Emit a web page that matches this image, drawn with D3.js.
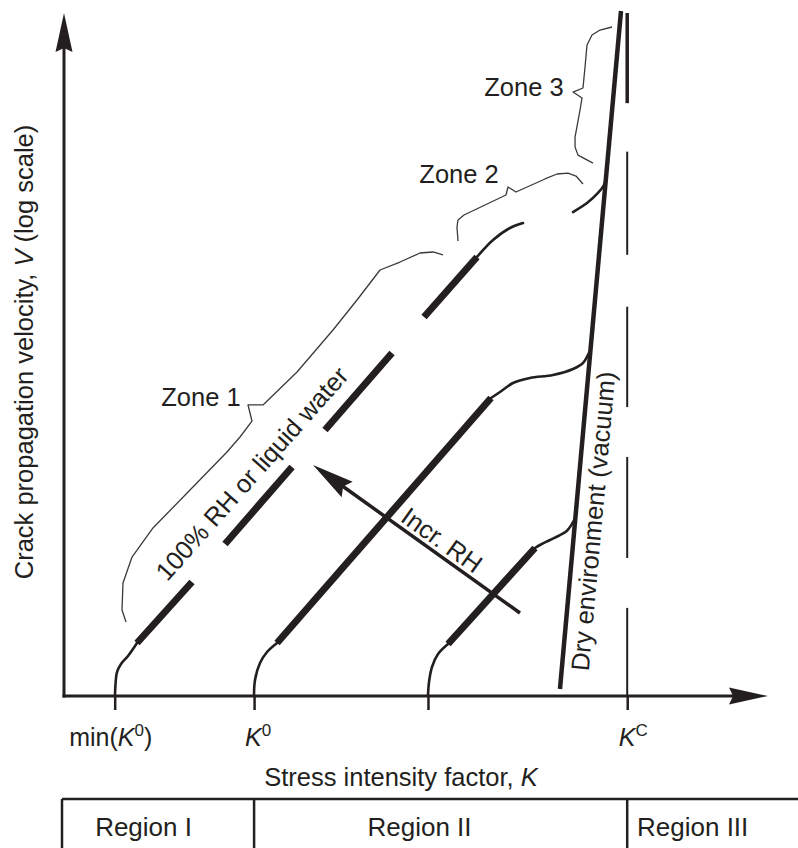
<!DOCTYPE html>
<html><head><meta charset="utf-8">
<script src="https://cdn.jsdelivr.net/npm/d3@7"></script>
<style>
html,body{margin:0;padding:0;background:#fff;}
svg{display:block;}
text{font-family:"Liberation Sans", Arial, Helvetica, sans-serif; fill:#231f20;}
</style></head><body>
<svg id="chart" width="798" height="848"></svg>
<script>
// ---------- DATA (K in arbitrary units 0-100, L = log V in arbitrary units 0-100) ----------
const kTicks = [7.2, 27.0, 51.7, 80.0];
const kTickLabels = [
  ["min(", "K", "0", ")"],
  ["", "K", "0", ""],
  ["", "", "", ""],
  ["", "K", "C", ""]
];
// curve for 100% RH / liquid water
const rh100Start = [[7.24,0],[7.32,1.76],[7.53,3.51],[8.10,4.69],[9.09,5.86],[10.37,7.76]];
const rh100Dashes = [
  [[10.37,7.76],[18.18,16.69]],
  [[22.87,22.25],[32.39,33.53]],
  [[37.07,38.95],[46.59,50.22]],
  [[51.14,55.49],[58.66,64.28]]
];
const rh100Tail = [[58.66,64.28],[60.94,66.76],[63.35,68.52],[65.2,69.25]];
const rh100Upper = [[72.3,70.86],[74.29,72.18],[75.85,73.65],[76.70,74.82],[76.99,75.84]];
// intermediate RH curve
const midStart = [[26.99,0],[27.13,2.34],[27.84,4.83],[28.84,6.44],[30.26,7.76]];
const midThick = [[30.26,7.76],[60.65,43.63]];
const midTail = [[60.65,43.63],[61.93,44.51],[63.78,45.83],[66.19,46.56],[69.46,47.0],[72.30,47.88],[73.72,48.76],[74.43,49.93],[74.82,50.81]];
// low RH curve
const lowStart = [[51.70,0],[51.85,2.05],[52.27,4.25],[53.13,6.15],[54.55,7.61]];
const lowThick = [[54.55,7.61],[66.90,21.67]];
const lowTail = [[66.90,21.67],[67.61,22.11],[69.03,22.84],[70.45,23.57],[71.45,24.20],[72.16,25.18],[72.6,26.06]];
// dry environment (vacuum)
const dryLine = [[70.45,1.02],[79.12,100.3]];
// K_C dashed line
const kcDashes = [[0,12.9],[20.2,35.0],[42.3,57.0],[64.6,79.7],[86.8,100]];
// increasing RH arrow
const incrArrow = [[64.77,12.15],[35.37,33.82]];
// zone braces
const zone1Brace = [[8.81,10.83],[8.24,12.59],[8.38,16.54],[9.66,20.35],[12.64,24.60],[17.90,30.16],[23.15,35.72],[25.0,37.92],[26.70,40.26],[26.14,42.61],[28.27,42.61],[33.10,47.44],[38.21,53.59],[41.62,57.98],[44.89,62.37],[47.73,63.54],[50.57,64.86],[52.41,65.01],[53.84,64.57]];
const zone2Brace = [[55.97,66.62],[55.82,68.67],[55.97,69.69],[56.82,70.42],[62.78,73.35],[63.07,74.52],[64.20,73.79],[68.32,75.70],[70.03,76.43],[71.59,76.57],[72.73,76.13],[73.72,74.96]];
const zone3Brace = [[77.84,97.95],[76.14,97.51],[75.0,96.78],[74.29,95.31],[74.01,92.09],[73.72,89.02],[72.30,88.43],[73.58,87.55],[73.30,85.80],[72.59,81.84],[72.59,80.38],[73.01,79.19],[75.14,78.02]];
const zoneNames = ["Zone 1", "Zone 2", "Zone 3"];
const zoneAnchors = [[19.46,42.46],[56.11,75.11],[65.34,87.85]];
const lineLabels = ["100% RH or liquid water", "Incr. RH", "Dry environment (vacuum)"];
const lineLabelAnchors = [[27.63,31.70],[52.95,21.77],[76.42,25.48]];
const lineLabelAngles = [-48.4, 35.6, -84.9];
const regions = ["Region I", "Region II", "Region III"];
const regionBounds = [0, 27.0, 80.0];
const regionLabelK = [11.3, 50.5, 89.3];

// ---------- DRAWING ----------
const ink = "#231f20";
const svg = d3.select("#chart");
const x = d3.scaleLinear().domain([0,100]).range([64,768]);
const y = d3.scaleLinear().domain([0,100]).range([696,13]);
const smooth = d3.line().x(d=>x(d[0])).y(d=>y(d[1])).curve(d3.curveCatmullRom.alpha(0.5));
const straight = d3.line().x(d=>x(d[0])).y(d=>y(d[1]));

function arrowHead(tip, from, len, half, notch) {
  const dx = tip[0]-from[0], dy = tip[1]-from[1], L = Math.hypot(dx,dy);
  const ux = dx/L, uy = dy/L, px = -uy, py = ux;
  const bx = tip[0]-ux*len, by = tip[1]-uy*len;
  const nx = tip[0]-ux*(len-notch), ny = tip[1]-uy*(len-notch);
  return `M${tip[0]},${tip[1]}L${bx+px*half},${by+py*half}L${nx},${ny}L${bx-px*half},${by-py*half}Z`;
}

// axes lines with arrows
const x0 = x(0), y0 = y(0);
svg.append("line").attr("x1",x0).attr("y1",y0+1.5).attr("x2",x0).attr("y2",y(100)+34)
  .attr("stroke",ink).attr("stroke-width",3);
svg.append("path").attr("d",arrowHead([x0,y(100)],[x0,y0],39,8.5,4)).attr("fill",ink);
svg.append("line").attr("x1",x0-1.5).attr("y1",y0).attr("x2",x(100)-34).attr("y2",y0)
  .attr("stroke",ink).attr("stroke-width",3);
svg.append("path").attr("d",arrowHead([x(100),y0],[x0,y0],39,8.5,4)).attr("fill",ink);

// x ticks via d3 axis
const gx = svg.append("g").attr("transform",`translate(0,${y0})`)
  .call(d3.axisBottom(x).tickValues(kTicks).tickSize(14).tickSizeOuter(0).tickFormat(()=>""));
gx.select(".domain").remove();
gx.selectAll(".tick line").attr("stroke",ink).attr("stroke-width",2.5);
gx.selectAll(".tick text").remove();
const tickDx = [-4, 4, 0, 6];
kTicks.forEach((k,i)=>{
  const parts = kTickLabels[i];
  if (!parts.join("")) return;
  const t = svg.append("text").attr("x",x(k)+tickDx[i]).attr("y",746)
    .attr("text-anchor","middle").attr("font-size",25);
  t.append("tspan").text(parts[0]);
  t.append("tspan").attr("font-style","italic").text(parts[1]);
  t.append("tspan").attr("font-size",17).attr("dy",-10).text(parts[2]);
  if (parts[3]) t.append("tspan").attr("dy",10).text(parts[3]);
});

// axis titles
const xt = svg.append("text").attr("x",401).attr("y",786).attr("text-anchor","middle").attr("font-size",25.5);
xt.append("tspan").text("Stress intensity factor, ");
xt.append("tspan").attr("font-style","italic").text("K");
const yt = svg.append("text").attr("transform",`translate(${x0-31},352) rotate(-90)`)
  .attr("text-anchor","middle").attr("font-size",25.5);
yt.append("tspan").text("Crack propagation velocity, ");
yt.append("tspan").attr("font-style","italic").text("V");
yt.append("tspan").text(" (log scale)");

// K_C dashed line
kcDashes.forEach((d,i)=>{
  svg.append("line").attr("x1",x(80)).attr("x2",x(80)).attr("y1",y(d[0])).attr("y2",y(d[1]))
    .attr("stroke",ink).attr("stroke-width", i===kcDashes.length-1 ? 3.5 : 2);
});

// zone braces
[zone1Brace, zone2Brace, zone3Brace].forEach(b=>{
  svg.append("path").attr("d",straight(b)).attr("fill","none").attr("stroke","#3a3a3a")
    .attr("stroke-width",1.3).attr("stroke-linejoin","round");
});

// curves: thin parts
[rh100Start, rh100Tail, rh100Upper, midStart, midTail, lowStart, lowTail].forEach(c=>{
  svg.append("path").attr("d",smooth(c)).attr("fill","none").attr("stroke",ink)
    .attr("stroke-width",2.6).attr("stroke-linecap","round");
});
// thick parts
rh100Dashes.concat([midThick, lowThick]).forEach(s=>{
  svg.append("path").attr("d",straight(s)).attr("fill","none").attr("stroke",ink)
    .attr("stroke-width",7);
});
// dry line
svg.append("path").attr("d",straight(dryLine)).attr("fill","none").attr("stroke",ink).attr("stroke-width",4.5);

// increasing RH arrow
const aTail = [x(incrArrow[0][0]), y(incrArrow[0][1])];
const aTip = [x(incrArrow[1][0]), y(incrArrow[1][1])];
{
  const dx = aTip[0]-aTail[0], dy = aTip[1]-aTail[1], L = Math.hypot(dx,dy);
  svg.append("line").attr("x1",aTail[0]).attr("y1",aTail[1])
    .attr("x2",aTip[0]-dx/L*34).attr("y2",aTip[1]-dy/L*34)
    .attr("stroke",ink).attr("stroke-width",3.5);
  svg.append("path").attr("d",arrowHead(aTip,aTail,42,9.5,5)).attr("fill",ink);
}

// zone labels
zoneNames.forEach((n,i)=>{
  svg.append("text").attr("x",x(zoneAnchors[i][0])).attr("y",y(zoneAnchors[i][1]))
    .attr("text-anchor","middle").attr("font-size",25.5).text(n);
});
// line labels (rotated)
lineLabels.forEach((n,i)=>{
  svg.append("text")
    .attr("transform",`translate(${x(lineLabelAnchors[i][0])},${y(lineLabelAnchors[i][1])}) rotate(${lineLabelAngles[i]})`)
    .attr("text-anchor","middle").attr("font-size",25.5).text(n);
});

// region table
const tTop = 799;
svg.append("line").attr("x1",x(regionBounds[0])-2).attr("x2",798).attr("y1",tTop).attr("y2",tTop)
  .attr("stroke",ink).attr("stroke-width",2.5);
regionBounds.forEach((k,i)=>{
  const px = i===0 ? x(k)-2 : x(k);
  svg.append("line").attr("x1",px).attr("x2",px).attr("y1",tTop).attr("y2",848)
    .attr("stroke",ink).attr("stroke-width",2.5);
});
regions.forEach((r,i)=>{
  svg.append("text").attr("x",x(regionLabelK[i])).attr("y",836).attr("text-anchor","middle")
    .attr("font-size",26).text(r);
});
</script>
</body></html>
